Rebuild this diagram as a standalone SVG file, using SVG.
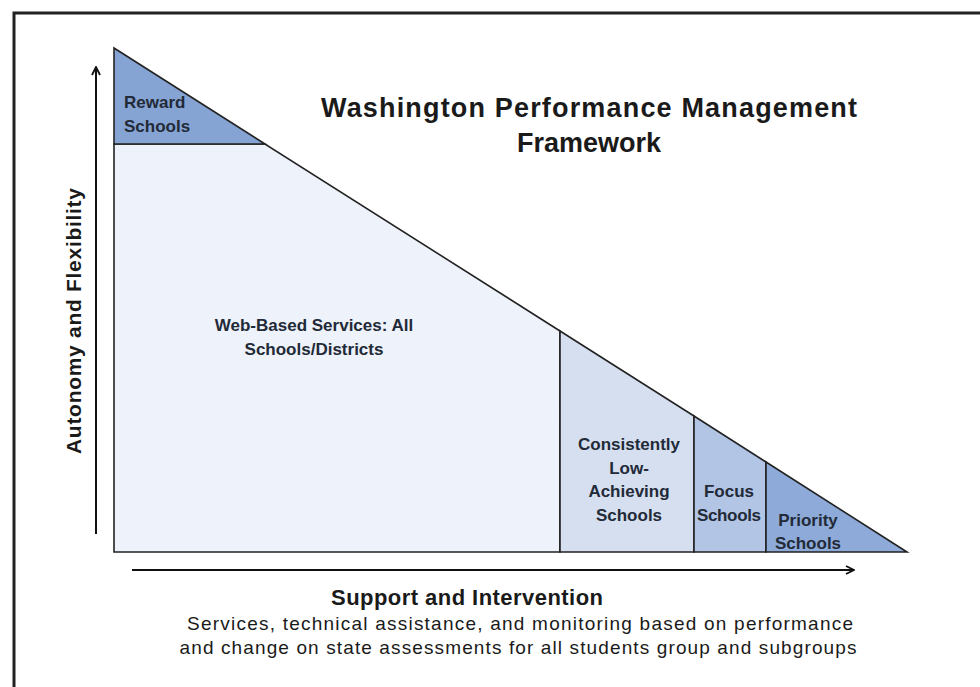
<svg xmlns="http://www.w3.org/2000/svg" width="980" height="687" viewBox="0 0 980 687">
<style>
.t{font-family:"Liberation Sans",Arial,sans-serif;fill:#1a1a1a}
.b{font-weight:bold}
.lbl{font-size:17px;font-weight:bold;fill:#222a38;text-anchor:middle}
.edge{stroke:#222;stroke-width:1.6}
.ax{stroke:#111;stroke-width:2;fill:none}
</style>
<defs>
<marker id="ah" viewBox="0 0 10 10" refX="9" refY="5" markerWidth="10" markerHeight="10" markerUnits="userSpaceOnUse" orient="auto">
<path d="M1,1 L9,5 L1,9" fill="none" stroke="#111" stroke-width="1.8"/>
</marker>
</defs>
<rect width="980" height="687" fill="#fff"/>
<path d="M14,687 V13 H980" fill="none" stroke="#222" stroke-width="3"/>
<g id="web-based">
<polygon points="114,144 265,144 560,331 560,552 114,552" fill="#eef2fa" class="edge"/>
<text class="t lbl" x="314" y="331">Web-Based Services: All</text>
<text class="t lbl" x="314" y="355">Schools/Districts</text>
</g>
<g id="reward">
<polygon points="114,48 265,144 114,144" fill="#86a4d3" class="edge"/>
<text class="t lbl" x="124" y="108" style="text-anchor:start">Reward</text>
<text class="t lbl" x="124" y="132" style="text-anchor:start">Schools</text>
</g>
<g id="consistently-low">
<polygon points="560,331 694,416 694,552 560,552" fill="#d6dff0" class="edge"/>
<text class="t lbl" x="629" y="450">Consistently</text>
<text class="t lbl" x="629" y="474">Low-</text>
<text class="t lbl" x="629" y="497">Achieving</text>
<text class="t lbl" x="629" y="521">Schools</text>
</g>
<g id="focus">
<polygon points="694,416 766,462 766,552 694,552" fill="#b2c5e5" class="edge"/>
<text class="t lbl" x="729" y="497">Focus</text>
<text class="t lbl" x="729" y="521" textLength="64">Schools</text>
</g>
<g id="priority">
<polygon points="766,462 907,552 766,552" fill="#8eaad8" class="edge"/>
<text class="t lbl" x="808" y="526">Priority</text>
<text class="t lbl" x="808" y="549">Schools</text>
</g>
<g id="connectors">
<line class="ax" x1="96" y1="534" x2="96" y2="67" marker-end="url(#ah)"/>
<line class="ax" x1="132" y1="570" x2="854" y2="570" marker-end="url(#ah)"/>
</g>
<g id="title">
<text class="t b" x="589" y="117" font-size="27" text-anchor="middle" textLength="536">Washington Performance Management</text>
<text class="t b" x="589" y="152" font-size="27" text-anchor="middle">Framework</text>
</g>
<text class="t b" transform="translate(81,321) rotate(-90)" font-size="21" text-anchor="middle" textLength="266">Autonomy and Flexibility</text>
<text class="t b" x="467" y="605" font-size="22" text-anchor="middle" textLength="272">Support and Intervention</text>
<text class="t" x="520" y="630" font-size="19" text-anchor="middle" textLength="666" fill="#333">Services, technical assistance, and monitoring based on performance</text>
<text class="t" x="518" y="654" font-size="19" text-anchor="middle" textLength="677" fill="#333">and change on state assessments for all students group and subgroups</text>
</svg>
